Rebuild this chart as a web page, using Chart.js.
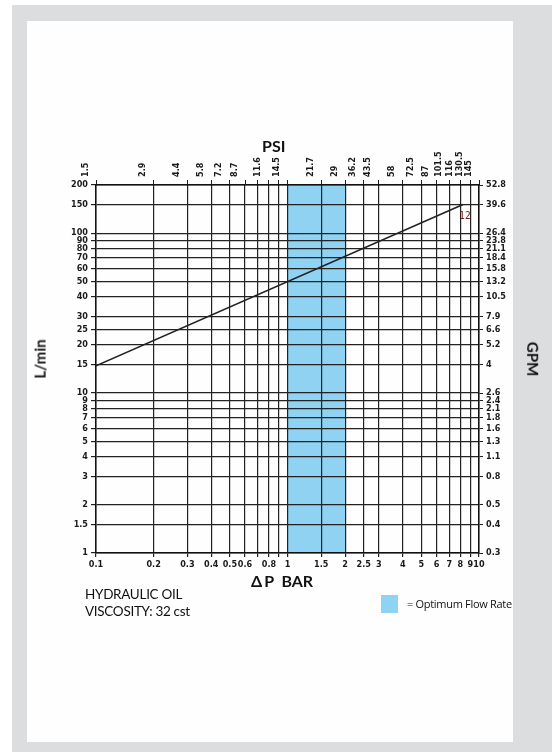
<!DOCTYPE html>
<html>
<head>
<meta charset="utf-8">
<script src="https://cdn.jsdelivr.net/npm/chart.js@4.4.1/dist/chart.umd.min.js"></script>
<style>
  body { margin: 0; background: #fff; width: 552px; height: 752px; position: relative; overflow: hidden; }
  #frame { position: absolute; left: 12px; top: 5px; width: 540px; height: 747px; background: #dcdddf; }
  #inner { position: absolute; left: 27px; top: 21px; width: 486px; height: 721px; background: #fefefe; }
  #grafica { position: absolute; left: 0; top: 0; }
  .txt { position: absolute; color: #111; font-family: Lato, 'DejaVu Sans Condensed', sans-serif; white-space: nowrap; }
</style>
</head>
<body>
<div id="frame"></div>
<div id="inner"></div>
<canvas id="grafica" width="552" height="752"></canvas>

<div class="txt" style="left:262px;top:136px;font-size:16px;font-weight:bold;">PSI</div>
<div class="txt" style="left:20px;top:350px;font-size:15px;font-weight:bold;transform:rotate(-90deg);">L/min</div>
<div class="txt" style="left:516px;top:350px;font-size:15px;font-weight:bold;transform:rotate(90deg);">GPM</div>
<div class="txt" style="left:251px;top:571px;font-size:16px;font-weight:bold;">&Delta;&thinsp;P&nbsp;&nbsp;BAR</div>
<div class="txt" style="left:85px;top:586px;font-size:13.5px;letter-spacing:-0.3px;">HYDRAULIC OIL</div>
<div class="txt" style="left:85px;top:603px;font-size:13.5px;letter-spacing:-0.3px;">VISCOSITY: 32 cst</div>
<div style="position:absolute;left:381px;top:595px;width:17px;height:18px;background:#8fd2f1;"></div>
<div class="txt" style="left:407px;top:596px;font-size:11px;font-family:'Open Sans',sans-serif;letter-spacing:-0.3px;">= Optimum Flow Rate</div>

<script>
// escalas (bar abajo, psi arriba, l/min izquierda, gpm derecha)
const barTicks = [0.1, 0.2, 0.3, 0.4, 0.5, 0.6, 0.7, 0.8, 0.9, 1, 1.5, 2, 2.5, 3, 4, 5, 6, 7, 8, 9, 10];
const barLabels = ['0.1', '0.2', '0.3', '0.4', '0.5', '0.6', '', '0.8', '', '1', '1.5', '2', '2.5', '3', '4', '5', '6', '7', '8', '9', '10'];
const psiLabels = ['1.5', '2.9', '4.4', '5.8', '7.2', '8.7', '', '11.6', '', '14.5', '21.7', '29', '36.2', '43.5', '58', '72.5', '87', '101.5', '116', '130.5', '145'];

const flowTicks = [1, 1.5, 2, 3, 4, 5, 6, 7, 8, 9, 10, 15, 20, 25, 30, 40, 50, 60, 70, 80, 90, 100, 150, 200];
const flowLabels = ['1', '1.5', '2', '3', '4', '5', '6', '7', '8', '9', '10', '15', '20', '25', '30', '40', '50', '60', '70', '80', '90', '100', '150', '200'];
const gpmLabels = ['0.3', '0.4', '0.5', '0.8', '1.1', '1.3', '1.6', '1.8', '2.1', '2.4', '2.6', '4', '5.2', '6.6', '7.9', '10.5', '13.2', '15.8', '18.4', '21.1', '23.8', '26.4', '39.6', '52.8'];

// curva caida de presion (bar) vs caudal (l/min)
const curvaBar = [0.1, 8.25];
const curvaFlujo = [14.8, 151];
const curvaEtiqueta = '12';

// zona optima
const zonaDesde = 1;
const zonaHasta = 2;

const fuenteTicks = { family: "'DejaVu Sans Condensed', sans-serif", size: 9, weight: 'bold' };
const colorLinea = '#222';

function fijarTicks(valores) {
    return scale => { scale.ticks = valores.map(v => ({ value: v })); };
}

const zonaPlugin = {
    id: 'zona',
    beforeDraw(chart) {
        const { ctx, chartArea, scales } = chart;
        const x1 = scales.x.getPixelForValue(zonaDesde);
        const x2 = scales.x.getPixelForValue(zonaHasta);
        ctx.save();
        ctx.fillStyle = '#8fd2f1';
        ctx.fillRect(x1, chartArea.top, x2 - x1, chartArea.bottom - chartArea.top);
        ctx.restore();
    },
    afterDatasetsDraw(chart) {
        const { ctx, scales } = chart;
        const n = curvaBar.length - 1;
        const px = scales.x.getPixelForValue(curvaBar[n]);
        const py = scales.y.getPixelForValue(curvaFlujo[n]);
        ctx.save();
        ctx.fillStyle = '#6e1f1f';
        ctx.font = "10px 'DejaVu Sans Condensed', sans-serif";
        ctx.textAlign = 'center';
        ctx.fillText(curvaEtiqueta, px + 2, py + 14);
        ctx.restore();
    }
};

function dibujarGrafica() {
    const ctx = document.getElementById('grafica').getContext('2d');
    new Chart(ctx, {
        type: 'scatter',
        data: {
            datasets: [{
                data: curvaBar.map((b, i) => ({ x: b, y: curvaFlujo[i] })),
                showLine: true,
                borderColor: colorLinea,
                borderWidth: 1.5,
                pointRadius: 0,
                xAxisID: 'x',
                yAxisID: 'y'
            }]
        },
        options: {
            responsive: false,
            animation: false,
            layout: { padding: 0 },
            plugins: { legend: { display: false }, tooltip: { enabled: false } },
            scales: {
                x: {
                    type: 'logarithmic', position: 'bottom', min: 0.1, max: 10,
                    afterBuildTicks: fijarTicks(barTicks),
                    afterFit: s => { s.height = 199; },
                    grid: { color: colorLinea, lineWidth: 1.2, tickLength: 4 },
                    border: { color: '#111', width: 1.5 },
                    ticks: { autoSkip: false, maxRotation: 0, padding: 2, color: '#1a1a1a', font: fuenteTicks,
                             callback: (v, i) => barLabels[i] }
                },
                x2: {
                    type: 'logarithmic', position: 'top', min: 0.1, max: 10,
                    afterBuildTicks: fijarTicks(barTicks),
                    afterFit: s => { s.height = 185; },
                    grid: { drawOnChartArea: false, color: colorLinea, tickLength: 5 },
                    border: { color: '#111', width: 1.5 },
                    ticks: { autoSkip: false, minRotation: 90, maxRotation: 90, padding: 3, color: '#1a1a1a', font: fuenteTicks,
                             callback: (v, i) => psiLabels[i] }
                },
                y: {
                    type: 'logarithmic', position: 'left', min: 1, max: 200,
                    afterBuildTicks: fijarTicks(flowTicks),
                    afterFit: s => { s.width = 96; },
                    grid: { color: colorLinea, lineWidth: 1.2, tickLength: 5 },
                    border: { color: '#111', width: 1.5 },
                    ticks: { autoSkip: false, padding: 3, color: '#1a1a1a', font: fuenteTicks,
                             callback: (v, i) => flowLabels[i] }
                },
                y2: {
                    type: 'logarithmic', position: 'right', min: 1, max: 200,
                    afterBuildTicks: fijarTicks(flowTicks),
                    afterFit: s => { s.width = 73; },
                    grid: { drawOnChartArea: false, color: colorLinea, tickLength: 4 },
                    border: { color: '#111', width: 1.5 },
                    ticks: { autoSkip: false, padding: 3, color: '#1a1a1a', font: fuenteTicks,
                             callback: (v, i) => gpmLabels[i] }
                }
            }
        },
        plugins: [zonaPlugin]
    });
}

// esperar a que las fuentes esten listas antes de pintar el canvas
Promise.all([
    document.fonts.load("bold 9px 'DejaVu Sans Condensed'"),
    document.fonts.load('bold 16px Lato')
]).then(dibujarGrafica, dibujarGrafica);
</script>
</body>
</html>
